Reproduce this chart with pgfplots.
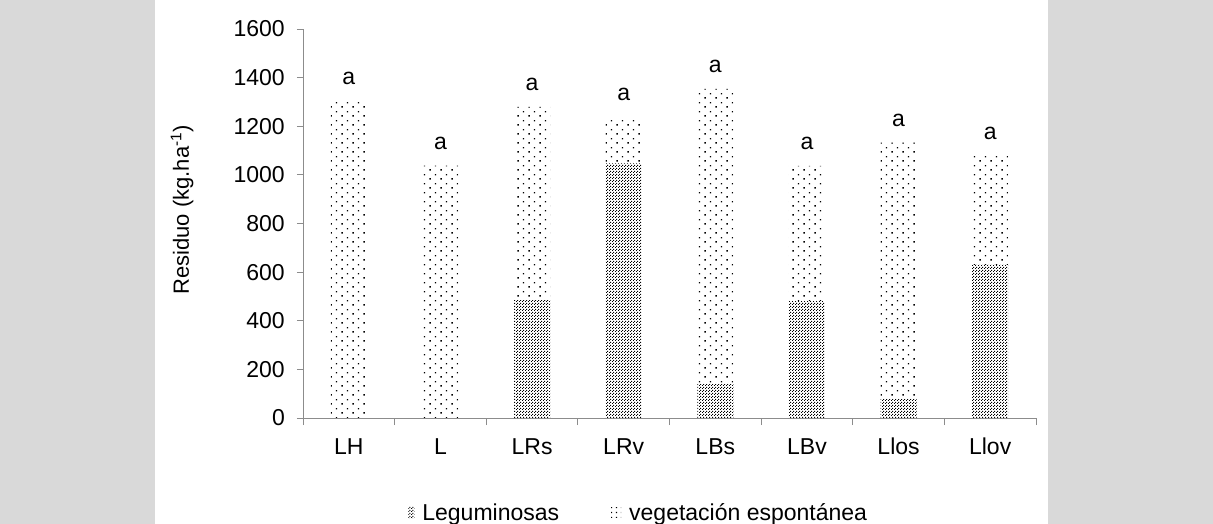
\documentclass[border=0pt]{standalone}
\usepackage{fontspec}
\setmainfont{Liberation Sans}
\usepackage{pgfplots}
\pgfplotsset{compat=1.18}
\usetikzlibrary{patterns}
\definecolor{bggray}{RGB}{217,217,217}
\definecolor{axisgray}{RGB}{140,140,140}
\pgfdeclarepatternformonly{sparsedots}{\pgfqpoint{0pt}{0pt}}{\pgfqpoint{11.4pt}{9.2pt}}{\pgfqpoint{11.4pt}{9.2pt}}{%
  \pgfpathrectangle{\pgfqpoint{0.5pt}{0.5pt}}{\pgfqpoint{1.4pt}{1.4pt}}%
  \pgfpathrectangle{\pgfqpoint{6.2pt}{5.1pt}}{\pgfqpoint{1.4pt}{1.4pt}}%
  \pgfusepath{fill}}
\pgfdeclarepatternformonly{legsparse}{\pgfqpoint{0pt}{0pt}}{\pgfqpoint{5pt}{5pt}}{\pgfqpoint{5pt}{5pt}}{%
  \pgfpathrectangle{\pgfqpoint{1pt}{1pt}}{\pgfqpoint{1.4pt}{1.4pt}}%
  \pgfusepath{fill}}
\pgfdeclarepatternformonly{densedots}{\pgfqpoint{0pt}{0pt}}{\pgfqpoint{3pt}{3pt}}{\pgfqpoint{3pt}{3pt}}{%
  \pgfpathrectangle{\pgfqpoint{0pt}{0pt}}{\pgfqpoint{1.2pt}{1.2pt}}%
  \pgfpathrectangle{\pgfqpoint{1.5pt}{1.5pt}}{\pgfqpoint{1.2pt}{1.2pt}}%
  \pgfusepath{fill}}
\newcommand{\fs}{\fontsize{23}{27}\selectfont}
\newcommand{\fl}{\fontsize{22}{26}\selectfont}
\pgfplotstableread{
x leg veg total
1 0    1306 1306
2 0    1038 1038
3 485  795  1280
4 1047 190  1237
5 140  1214 1354
6 481  556  1037
7 79   1054 1133
8 630  447  1077
}\datatab
\begin{document}
\begin{tikzpicture}
\fill[white] (-303pt,-106pt) rectangle (910pt,418pt);
\fill[bggray] (-303pt,-106pt) rectangle (-148pt,418pt);
\fill[bggray] (745pt,-106pt) rectangle (910pt,418pt);
\path[use as bounding box] (-303pt,-106pt) rectangle (910pt,418pt);
\begin{axis}[
  width=733pt, height=389pt, scale only axis,
  ybar stacked, bar width=36pt,
  xmin=0.5, xmax=8.5, ymin=0, ymax=1600,
  xtick={1,2,3,4,5,6,7,8},
  xticklabels={LH,L,LRs,LRv,LBs,LBv,Llos,Llov},
  major x tick style={draw=none},
  extra x ticks={0.5,1.5,2.5,3.5,4.5,5.5,6.5,7.5,8.5},
  extra x tick labels={},
  extra x tick style={major tick length=7pt, major x tick style={draw=axisgray, line width=0.8pt}},
  ytick={0,200,...,1600},
  axis x line*=bottom, axis y line*=left,
  axis line style={draw=axisgray, line width=0.8pt, -},
  tick align=outside, major tick length=6pt,
  ytick style={draw=axisgray, line width=0.8pt},
  tick label style={font=\fs},
  /pgf/number format/assume math mode=true,
  /pgf/number format/1000 sep={},
  yticklabel style={inner sep=0pt, xshift=-12pt},
  xticklabel style={inner sep=0pt, anchor=base, yshift=-30pt},
  ylabel={Residuo (kg.ha\textsuperscript{-1})},
  ylabel style={font=\fl, at={(axis description cs:-0.165,0.535)}, anchor=center},
  legend style={at={(axis description cs:0.458,-0.244)}, anchor=center, draw=none,
    fill=none, font=\fs, legend columns=2,
    /tikz/every odd column/.append style={column sep=6pt},
    /tikz/every even column/.append style={column sep=50pt}},
  legend image code/.code={\fill[#1] (0pt,-6pt) rectangle (6pt,6pt);},
]
\addplot[draw=none, pattern=densedots, pattern color=black] table[x=x, y=leg] {\datatab};
\addlegendentry{Leguminosas}
\addplot[draw=none, pattern=sparsedots, pattern color=black,
  legend image code/.code={\fill[pattern=legsparse, pattern color=black] (0pt,-5pt) rectangle (10pt,5pt);}]
  table[x=x, y=veg] {\datatab};
\addlegendentry{vegetación espontánea}
\end{axis}
\begin{axis}[
  width=733pt, height=389pt, scale only axis, hide axis,
  xmin=0.5, xmax=8.5, ymin=0, ymax=1600, clip=false,
]
\addplot[only marks, mark=none,
  nodes near coords={a},
  every node near coord/.append style={font=\fs, anchor=south, inner sep=0pt, yshift=16pt, text=black}]
  table[x=x, y=total] {\datatab};
\end{axis}
\end{tikzpicture}
\end{document}
